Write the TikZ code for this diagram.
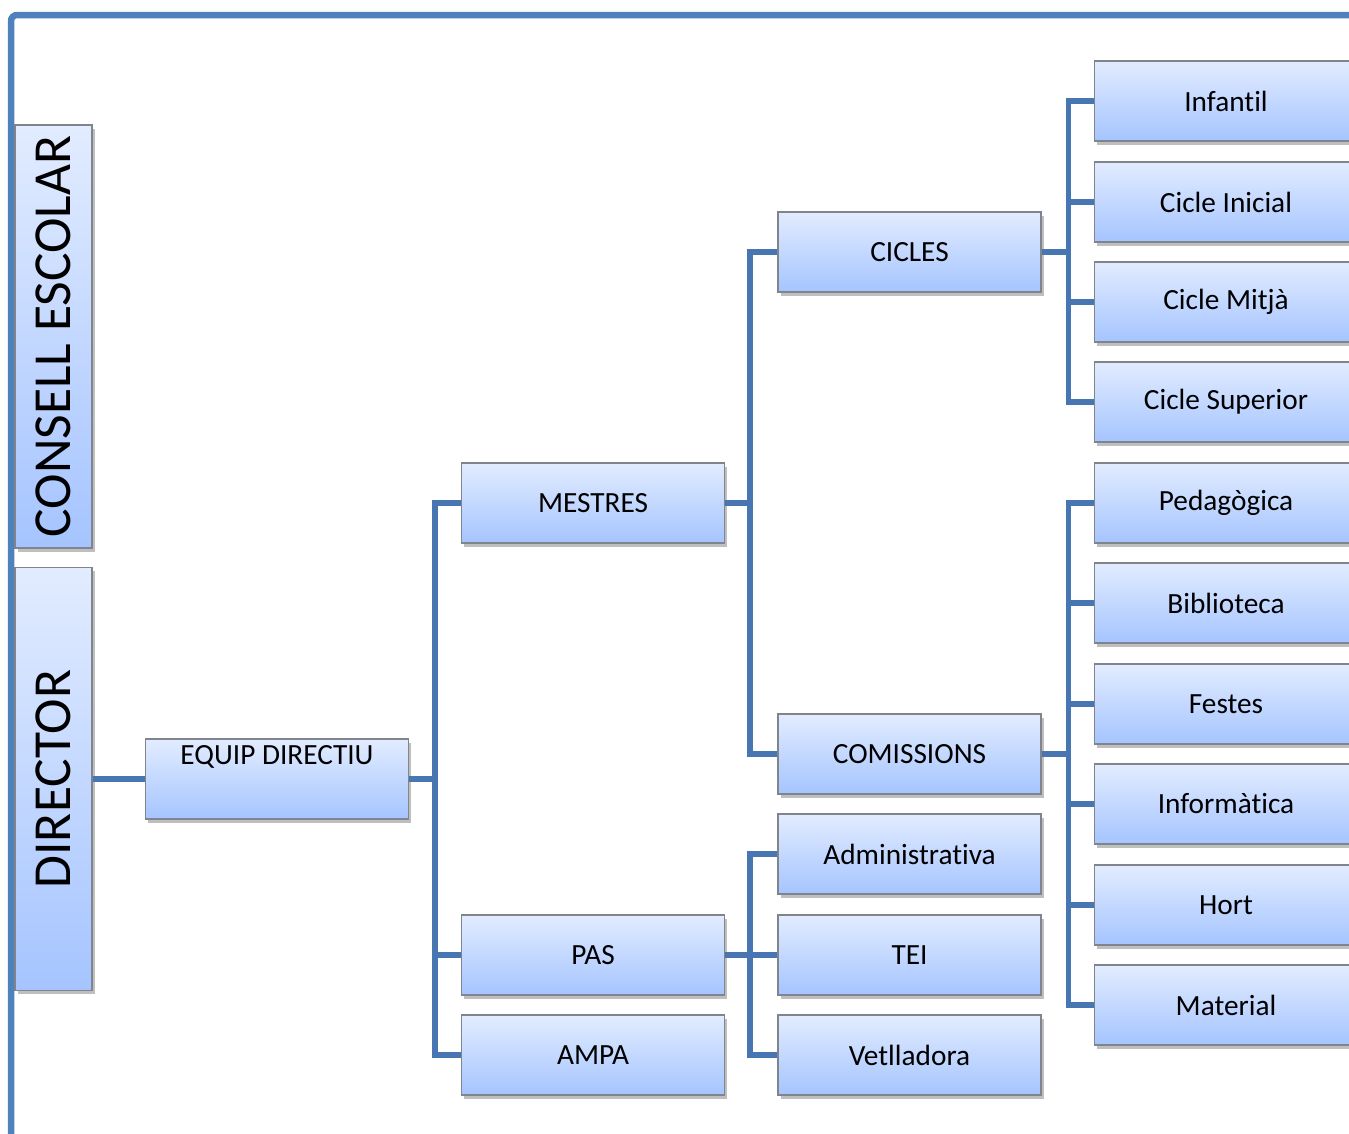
\documentclass[tikz,border=0pt]{standalone}
\usepackage{fontspec}
\setmainfont[Ligatures=NoCommon]{Carlito}
\usetikzlibrary{shadows}
\definecolor{boxtop}{RGB}{226,236,255}
\definecolor{boxbot}{RGB}{165,196,255}
\definecolor{boxline}{RGB}{128,132,140}
\definecolor{frameblue}{RGB}{79,129,189}
\definecolor{connblue}{RGB}{72,118,178}
\tikzset{
  orgbox/.style={draw=boxline, line width=1.2pt, top color=boxtop, bottom color=boxbot,
    minimum width=263pt, minimum height=80pt, inner sep=0pt,
    font=\fontsize{29.3}{34}\selectfont,
    drop shadow={shadow xshift=2.5pt, shadow yshift=-3.5pt, opacity=0.25, fill=black}},
  sidebox/.style={orgbox, minimum width=77pt, minimum height=423pt,
    font=\fontsize{53.5}{60}\selectfont},
  conn/.style={draw=connblue, line width=5.5pt},
  frameline/.style={draw=frameblue, line width=6.5pt, rounded corners=6pt}
}
\begin{document}
\begin{tikzpicture}[x=1pt,y=-1pt]
\useasboundingbox (0,0) rectangle (1349,1133);
\clip (0,0) rectangle (1349,1133);
\draw[frameline] (11,1150) -- (11,15) -- (1370,15);

\node[sidebox] (consell) at (53.5,336.5) {\rotatebox{90}{CONSELL ESCOLAR}};
\node[sidebox] (director) at (53.5,779) {\rotatebox{90}{DIRECTOR}};

\node[orgbox, label={[anchor=north, inner sep=0pt, yshift=-7pt, font=\fontsize{29.3}{34}\selectfont]north:EQUIP DIRECTIU}] (equip) at (277,779) {};

\node[orgbox] (mestres) at (593,503) {MESTRES};
\node[orgbox] (pas) at (593,955) {PAS};
\node[orgbox] (ampa) at (593,1055) {AMPA};

\node[orgbox] (cicles) at (909.5,252) {CICLES};
\node[orgbox] (comissions) at (909.5,754) {COMISSIONS};
\node[orgbox] (admin) at (909.5,854) {Administrativa};
\node[orgbox] (tei) at (909.5,955) {TEI};
\node[orgbox] (vetl) at (909.5,1055) {Vetlladora};

\node[orgbox] (infantil) at (1226,101) {Infantil};
\node[orgbox] (inicial) at (1226,202) {Cicle Inicial};
\node[orgbox] (mitja) at (1226,302) {Cicle Mitjà};
\node[orgbox] (superior) at (1226,402) {Cicle Superior};
\node[orgbox] (pedag) at (1226,503) {Pedagògica};
\node[orgbox] (biblio) at (1226,603) {Biblioteca};
\node[orgbox] (festes) at (1226,704) {Festes};
\node[orgbox] (info) at (1226,804) {Informàtica};
\node[orgbox] (hort) at (1226,905) {Hort};
\node[orgbox] (material) at (1226,1005) {Material};

\draw[conn] (director.east) -- (equip.west);

\coordinate (b1) at ([xshift=26pt]equip.east);
\foreach \t in {mestres,pas,ampa} \draw[conn] (equip.east) -- (b1) |- (\t.west);

\coordinate (b2) at ([xshift=25pt]mestres.east);
\foreach \t in {cicles,comissions} \draw[conn] (mestres.east) -- (b2) |- (\t.west);

\coordinate (b3) at ([xshift=25pt]pas.east);
\foreach \t in {admin,tei,vetl} \draw[conn] (pas.east) -- (b3) |- (\t.west);

\coordinate (b4) at ([xshift=27pt]cicles.east);
\foreach \t in {infantil,inicial,mitja,superior} \draw[conn] (cicles.east) -- (b4) |- (\t.west);

\coordinate (b5) at ([xshift=27pt]comissions.east);
\foreach \t in {pedag,biblio,festes,info,hort,material} \draw[conn] (comissions.east) -- (b5) |- (\t.west);
\end{tikzpicture}
\end{document}
